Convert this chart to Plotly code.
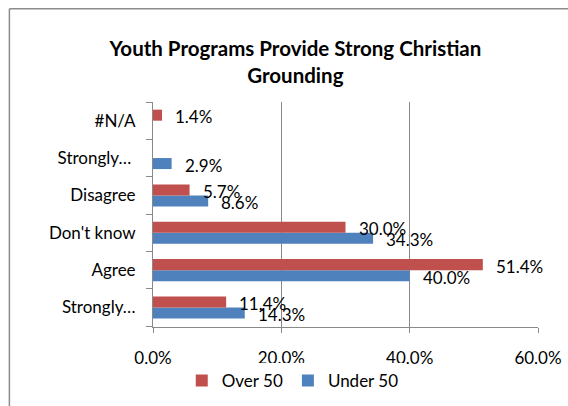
import plotly.graph_objects as go

categories = ["Strongly…", "Agree", "Don't know", "Disagree", "Strongly… ", "#N/A"]
over_50 = [11.4, 51.4, 30.0, 5.7, None, 1.4]
under_50 = [14.3, 40.0, 34.3, 8.6, 2.9, None]
x_ticks = [0, 20, 40, 60]
x_tick_labels = ["0.0%", "20.0%", "40.0%", "60.0%"]
title_text = "Youth Programs Provide Strong Christian<br>Grounding"

RED = "#C0504D"
BLUE = "#4F81BD"
GRID = "#898989"
FONT = "Lato"

fig = go.Figure()
fig.add_trace(go.Bar(y=categories, x=under_50, orientation="h", name="Under 50",
                     marker=dict(color=BLUE, line=dict(width=0))))
fig.add_trace(go.Bar(y=categories, x=over_50, orientation="h", name="Over 50",
                     marker=dict(color=RED, line=dict(width=0))))

annotations = []
for vals, ys in ((over_50, 4), (under_50, -7)):
    for c, v in zip(categories, vals):
        if v is None:
            continue
        annotations.append(dict(x=v, y=c, xref="x", yref="y", text=f"{v:.1f}%",
                                showarrow=False, xanchor="left", yanchor="middle",
                                xshift=11, yshift=ys,
                                font=dict(family=FONT, size=17, color="black")))

fig.update_layout(
    width=568, height=406,
    margin=dict(l=153, r=30, t=102, b=79, autoexpand=False),
    paper_bgcolor="white", plot_bgcolor="white",
    barmode="group", bargap=0.41, bargroupgap=0,
    font=dict(family=FONT, size=17, color="black"),
    title=dict(text=title_text, x=0.52, xanchor="center", y=0.862, yref="container",
               yanchor="middle",
               font=dict(family=FONT, size=20.5, color="black", weight="bold")),
    showlegend=True,
    legend=dict(orientation="h", x=0.363, xanchor="center", y=-0.24, yanchor="middle",
                traceorder="reversed", font=dict(size=17), itemwidth=30),
    annotations=annotations,
    shapes=[
        dict(type="line", xref="paper", yref="paper", x0=-0.373, x1=1.1, y0=1.414, y1=1.414,
             line=dict(color="#8c8c8c", width=1.5)),
        dict(type="line", xref="paper", yref="paper", x0=-0.373, x1=-0.373, y0=1.414, y1=-0.4,
             line=dict(color="#8c8c8c", width=1.5)),
    ],
)
fig.update_xaxes(range=[0, 60], tickvals=x_ticks, ticktext=x_tick_labels,
                 showgrid=True, gridcolor=GRID, gridwidth=1,
                 showline=True, linecolor=GRID, linewidth=1,
                 ticks="outside", ticklen=5, tickcolor=GRID,
                 zeroline=False, ticklabelstandoff=11, automargin=False, fixedrange=True)
fig.update_yaxes(type="category", categoryorder="array", categoryarray=categories,
                 showgrid=False, showline=True, linecolor=GRID, linewidth=1,
                 ticks="outside", ticklen=6, tickcolor=GRID, tickson="boundaries",
                 ticklabelstandoff=13, automargin=False, fixedrange=True)

fig.write_html("out.html", config={"displayModeBar": False},
               post_script="document.body.style.margin='0';")
